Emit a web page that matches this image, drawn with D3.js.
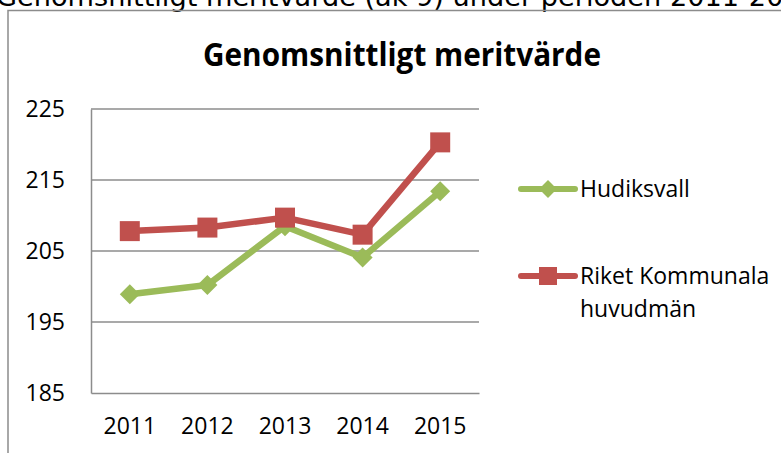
<!DOCTYPE html>
<html>
<head>
<meta charset="utf-8">
<script src="https://cdn.jsdelivr.net/npm/d3@7"></script>
<style>
  body { margin: 0; background: #fff; }
  svg { display: block; }
</style>
</head>
<body>
<div class="chart"></div>
<script>
var svgWidth = 781;
var svgHeight = 453;

// Data
var years = ["2011", "2012", "2013", "2014", "2015"];
var hudiksvall = [198.9, 200.2, 208.5, 204.1, 213.4];
var riket = [207.8, 208.3, 209.7, 207.3, 220.3];
var yTicks = [185, 195, 205, 215, 225];
var seriesNames = ["Hudiksvall", "Riket Kommunala huvudmän"];

var margin = { top: 109, left: 91, right: 302, bottom: 60 };
var width = 479 - margin.left;
var height = 393 - margin.top;

var svg = d3.select(".chart")
  .append("svg")
  .attr("width", svgWidth)
  .attr("height", svgHeight);

// page heading, clipped at the top
svg.append("text")
  .attr("x", -4)
  .attr("y", 6)
  .attr("textLength", 822)
  .attr("lengthAdjust", "spacingAndGlyphs")
  .style("font-family", "DejaVu Sans")
  .style("font-size", "27px")
  .text("Genomsnittligt meritvärde (åk 9) under perioden 2011-2015");

// chart frame
svg.append("rect")
  .attr("x", 8)
  .attr("y", 10.5)
  .attr("width", 900)
  .attr("height", 600)
  .attr("fill", "none")
  .attr("stroke", "#8c8c8c")
  .attr("stroke-width", 1.5);

// title
svg.append("text")
  .attr("x", 402)
  .attr("y", 66)
  .attr("text-anchor", "middle")
  .attr("textLength", 398)
  .attr("lengthAdjust", "spacingAndGlyphs")
  .style("font-family", "Open Sans")
  .style("font-weight", "bold")
  .style("font-size", "32px")
  .text("Genomsnittligt meritvärde");

var chartGroup = svg.append("g")
  .attr("transform", `translate(${margin.left}, ${margin.top})`);

// Scales
var xScale = d3.scaleBand()
  .domain(years)
  .range([0, width]);

var yScale = d3.scaleLinear()
  .domain([185, 225])
  .range([height, 0]);

// gridlines
chartGroup.selectAll(".grid")
  .data(yTicks.slice(1))
  .enter()
  .append("line")
  .attr("x1", 0)
  .attr("x2", width)
  .attr("y1", d => yScale(d))
  .attr("y2", d => yScale(d))
  .attr("stroke", "#8c8c8c")
  .attr("stroke-width", 1.3);

// Axis
var leftAxis = d3.axisLeft(yScale).tickValues(yTicks).tickSize(0).tickPadding(26);
var bottomAxis = d3.axisBottom(xScale).tickSize(0).tickPadding(25);

var yAxisG = chartGroup.append("g").call(leftAxis);
var xAxisG = chartGroup.append("g")
  .attr("transform", `translate(0, ${height})`)
  .call(bottomAxis);

[yAxisG, xAxisG].forEach(function(g) {
  g.select(".domain").attr("stroke", "#8c8c8c").attr("stroke-width", 1.5);
  g.selectAll("text")
    .attr("fill", "#000")
    .style("font-family", "Open Sans")
    .style("font-size", "23px");
});

// Lines
var series = [
  { name: seriesNames[0], values: hudiksvall, color: "#9bbb59", shape: "diamond" },
  { name: seriesNames[1], values: riket, color: "#c0504d", shape: "square" }
];

var line = d3.line()
  .x((d, i) => xScale(years[i]) + xScale.bandwidth() / 2)
  .y(d => yScale(d));

function marker(shape, big) {
  if (shape === "diamond") return d3.symbol(d3.symbolSquare, big ? 200 : 160)();
  return d3.symbol(d3.symbolSquare, big ? 400 : 324)();
}

series.forEach(function(s) {
  chartGroup.append("path")
    .datum(s.values)
    .attr("d", line)
    .attr("fill", "none")
    .attr("stroke", s.color)
    .attr("stroke-width", 6.5)
    .attr("stroke-linejoin", "round")
    .attr("stroke-linecap", "round");

  chartGroup.selectAll(null)
    .data(s.values)
    .enter()
    .append("path")
    .attr("d", marker(s.shape, true))
    .attr("transform", (d, i) => `translate(${xScale(years[i]) + xScale.bandwidth() / 2}, ${yScale(d)})` +
      (s.shape === "diamond" ? " rotate(45)" : ""))
    .attr("fill", s.color);
});

// Legend
var legend = svg.append("g");
var legendY = [189, 276];

series.forEach(function(s, i) {
  var g = legend.append("g").attr("transform", `translate(0, ${legendY[i]})`);
  g.append("line")
    .attr("x1", 521).attr("x2", 575)
    .attr("stroke", s.color)
    .attr("stroke-width", 6)
    .attr("stroke-linecap", "round");
  g.append("path")
    .attr("d", marker(s.shape, false))
    .attr("transform", "translate(548, 0)" + (s.shape === "diamond" ? " rotate(45)" : ""))
    .attr("fill", s.color);
});

legend.append("text")
  .attr("x", 580).attr("y", 197)
  .style("font-family", "Open Sans").style("font-size", "23px")
  .text("Hudiksvall");

legend.append("text")
  .attr("x", 580).attr("y", 284)
  .style("font-family", "Open Sans").style("font-size", "23px")
  .text("Riket Kommunala");

legend.append("text")
  .attr("x", 580).attr("y", 317)
  .style("font-family", "Open Sans").style("font-size", "23px")
  .text("huvudmän");
</script>
</body>
</html>
